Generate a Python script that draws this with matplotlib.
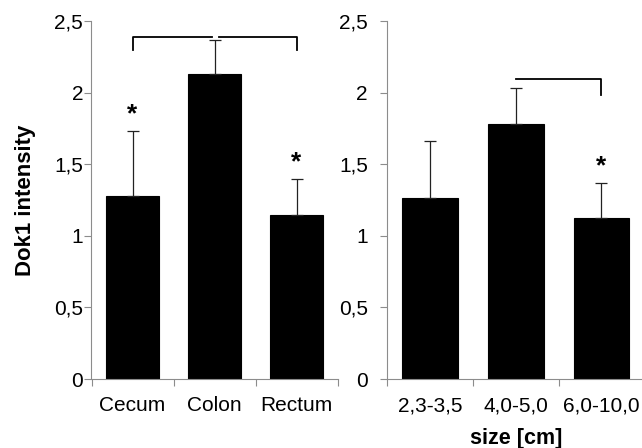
import matplotlib
matplotlib.use("Agg")
import matplotlib.pyplot as plt

plt.rcParams['font.family'] = ['Liberation Sans', 'DejaVu Sans']

# Dok1 intensity by location
loc_labels = ["Cecum", "Colon", "Rectum"]
loc_means = [1.278, 2.13, 1.145]
loc_err = [0.455, 0.237, 0.255]
loc_stars = [True, False, True]

# Dok1 intensity by tumour size
size_labels = ["2,3-3,5", "4,0-5,0", "6,0-10,0"]
size_means = [1.266, 1.78, 1.126]
size_err = [0.394, 0.25, 0.243]
size_stars = [False, False, True]

yticks = [0, 0.5, 1, 1.5, 2, 2.5]
ytick_labels = ["0", "0,5", "1", "1,5", "2", "2,5"]

fig = plt.figure(figsize=(6.42, 4.48), dpi=100)
ax1 = fig.add_axes([91.5 / 642, 69 / 448, 246 / 642, 358 / 448])
ax2 = fig.add_axes([387.3 / 642, 69 / 448, 257 / 642, 358 / 448])

grey = "#8c8c8c"
FS = 15


def draw_panel(ax, labels, means, errs, stars, ypad):
    x = list(range(len(labels)))
    ax.bar(x, means, width=0.65, color="black", edgecolor="black", linewidth=0.8)
    ax.errorbar(x, means, yerr=[[0] * len(errs), errs], fmt="none",
                ecolor="#222222", elinewidth=0.9, capsize=4.5, capthick=0.9)
    for xi, m, e, s in zip(x, means, errs, stars):
        if s:
            ax.text(xi, m + e + 0.03, "*", ha="center", va="bottom",
                    fontsize=19, fontweight="bold")
    ax.set_xlim(-0.5, len(labels) - 0.5)
    ax.set_ylim(0, 2.5)
    ax.set_yticks(yticks)
    ax.set_yticklabels(ytick_labels, fontsize=FS)
    ax.set_xticks([-0.5, 0.5, 1.5, 2.5])
    ax.set_xticklabels([])
    ax.set_xticks(x, minor=True)
    ax.set_xticklabels(labels, minor=True, fontsize=FS)
    ax.tick_params(axis="x", which="minor", length=0, pad=12.5)
    ax.tick_params(axis="x", which="major", length=5, color=grey, width=0.8)
    ax.tick_params(axis="y", length=5, color=grey, width=0.8, pad=ypad)
    for side in ("top", "right"):
        ax.spines[side].set_visible(False)
    for side in ("left", "bottom"):
        ax.spines[side].set_color(grey)
        ax.spines[side].set_linewidth(0.8)
    return x


xa = draw_panel(ax1, loc_labels, loc_means, loc_err, loc_stars, 1)
xb = draw_panel(ax2, size_labels, size_means, size_err, size_stars, 9)

ax1.set_ylabel("Dok1 intensity", fontsize=16, fontweight="bold", labelpad=13)
ax2.set_xlabel("size [cm]", fontsize=15.5, fontweight="bold", labelpad=9)

# significance brackets
lw = 1.3
ax1.plot([xa[0], xa[0], 0.97], [2.30, 2.39, 2.39], color="black", lw=lw, clip_on=False)
ax1.plot([1.06, xa[2], xa[2]], [2.39, 2.39, 2.30], color="black", lw=lw, clip_on=False)
ax2.plot([xb[1], xb[2], xb[2]], [2.095, 2.095, 1.98], color="black", lw=lw, clip_on=False)

fig.savefig("out.png", dpi=100)
